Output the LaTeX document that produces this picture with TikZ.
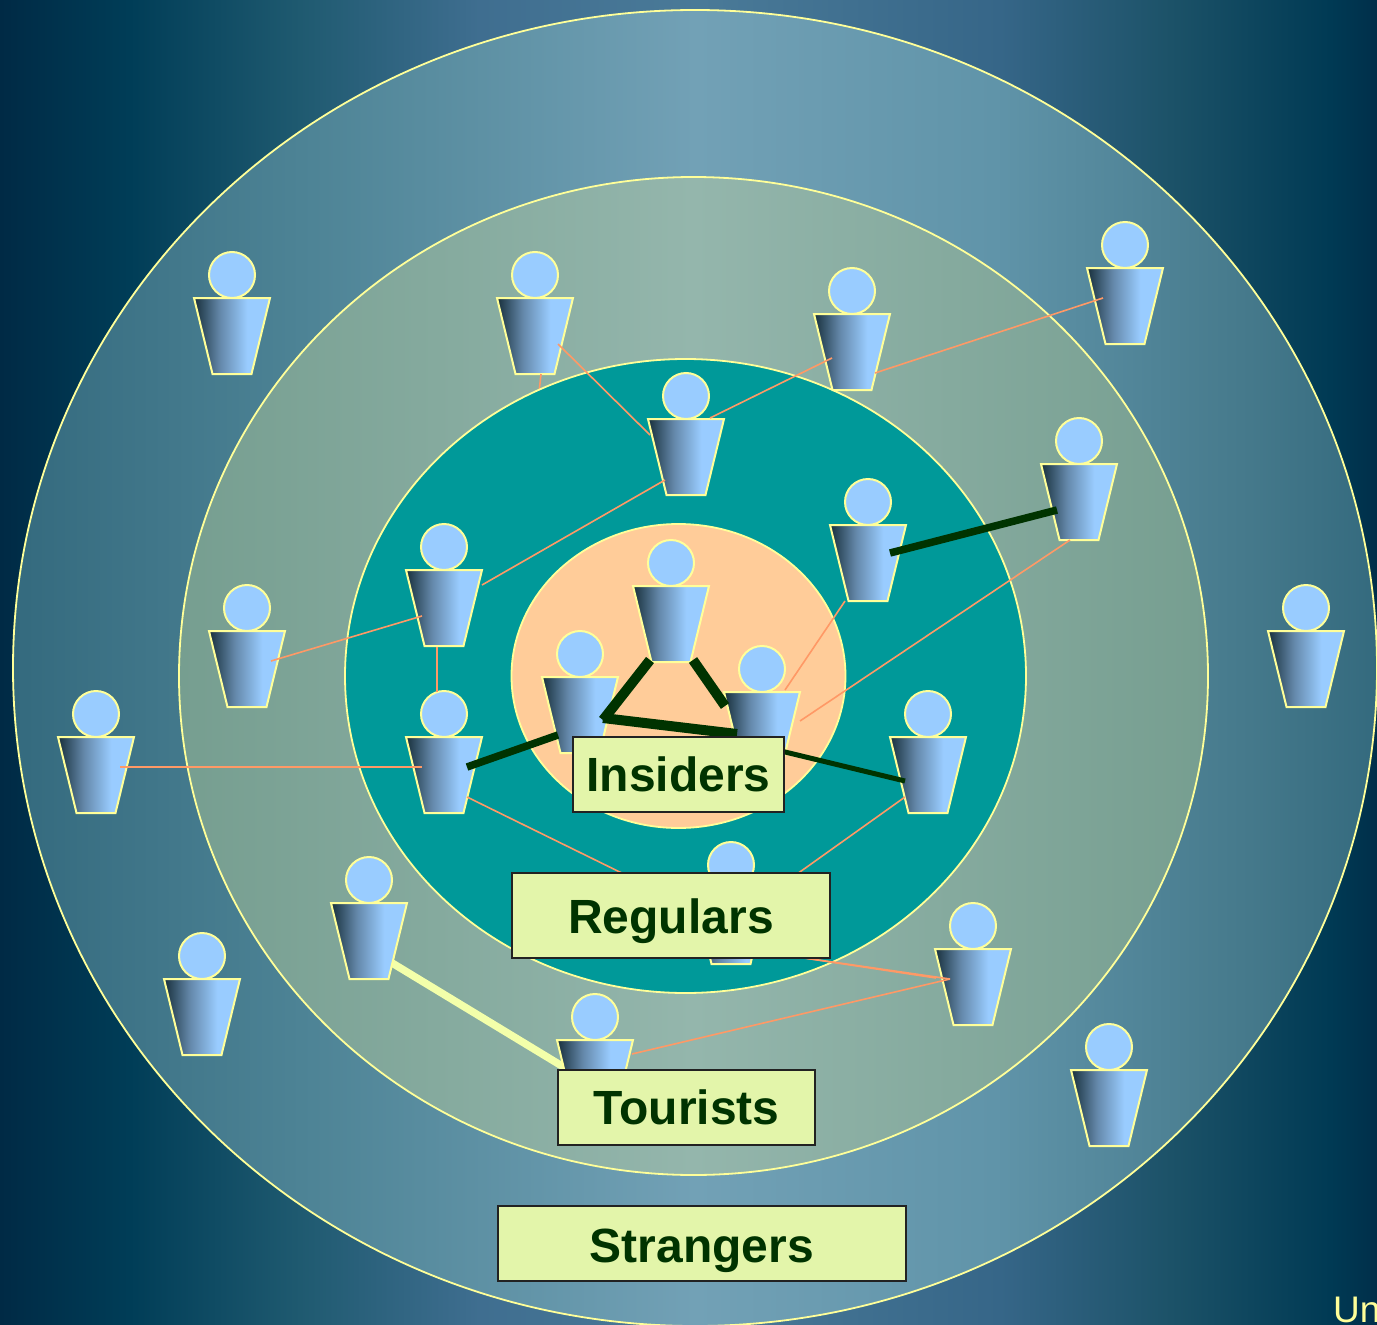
\documentclass[tikz,border=0pt]{standalone}
\usepackage{fontspec}
\setmainfont{Liberation Sans}
\usetikzlibrary{shapes.geometric}
\definecolor{ruleyellow}{HTML}{FFFF99}
\definecolor{linkorange}{HTML}{FF9966}
\definecolor{linkdark}{HTML}{003300}
\definecolor{linkpale}{HTML}{F3FFAA}
\definecolor{labelfill}{HTML}{E3F5AA}
\definecolor{labelrule}{HTML}{222222}
\definecolor{headblue}{HTML}{99CCFF}
\definecolor{tealring}{HTML}{009999}
\definecolor{peach}{HTML}{FFCC99}
\definecolor{bga}{HTML}{002A45}
\definecolor{bgb}{HTML}{003D57}
\definecolor{bgc}{HTML}{1F5A70}
\definecolor{bgd}{HTML}{3F6E90}
\definecolor{bge}{HTML}{4A7A98}
\definecolor{bgf}{HTML}{366688}
\definecolor{bgg}{HTML}{1C5268}
\definecolor{bgh}{HTML}{003A54}
\definecolor{bgi}{HTML}{002F4A}
\definecolor{oa}{HTML}{346A7E}
\definecolor{ob}{HTML}{4E8496}
\definecolor{oc}{HTML}{72A1B6}
\definecolor{od}{HTML}{6094A9}
\definecolor{oe}{HTML}{467A8C}
\definecolor{ma}{HTML}{769E90}
\definecolor{mb}{HTML}{94B6AC}
\definecolor{pa}{HTML}{18303C}
\definecolor{pb}{HTML}{6488AA}
\pgfdeclarehorizontalshading{bgshade}{100bp}{
 color(0bp)=(bga);
 color(25bp)=(bga);
 color(29.7bp)=(bgb);
 color(35.9bp)=(bgc);
 color(42.4bp)=(bgd);
 color(50.4bp)=(bge);
 color(61.3bp)=(bgf);
 color(67.5bp)=(bgg);
 color(73.3bp)=(bgh);
 color(75bp)=(bgi);
 color(100bp)=(bgi)}
\pgfdeclarehorizontalshading{outershade}{100bp}{
 color(0bp)=(oa);
 color(25bp)=(oa);
 color(36bp)=(ob);
 color(50bp)=(oc);
 color(61bp)=(od);
 color(70bp)=(oe);
 color(75bp)=(oa);
 color(100bp)=(oa)}
\pgfdeclarehorizontalshading{middleshade}{100bp}{
 color(0bp)=(ma);
 color(25bp)=(ma);
 color(50bp)=(mb);
 color(75bp)=(ma);
 color(100bp)=(ma)}
\pgfdeclarehorizontalshading{bodyshade}{100bp}{
 color(0bp)=(pa);
 color(25bp)=(pa);
 color(42bp)=(pb);
 color(60bp)=(headblue);
 color(100bp)=(headblue)}
\tikzset{
 headn/.style={circle,draw=ruleyellow,fill=headblue,line width=2pt,minimum size=46pt,inner sep=0pt,outer sep=0pt},
 bodyn/.style={trapezium,shape border rotate=180,trapezium stretches body,trapezium angle=76.3,minimum width=76pt,text height=76pt,text depth=0pt,text width=1pt,inner sep=0pt,outer sep=0pt,draw=ruleyellow,line width=2pt,shading=bodyshade},
 ring/.style={draw=ruleyellow,line width=1.8pt},
 thinlink/.style={draw=linkorange,line width=1.6pt},
 darklink/.style={draw=linkdark,line width=#1},
 palelink/.style={draw=linkpale,line width=7.5pt},
 labelbox/.style={draw=labelrule,line width=1.5pt,fill=labelfill,text=linkdark,text height=34pt,text depth=0pt,font=\fontsize{48}{48}\selectfont\bfseries,inner sep=0pt,outer sep=0pt}
}
\newcommand{\person}[3]{\node[headn] (#1h) at (#2,#3) {};\node[bodyn] (#1) at (#2,#3+61) {};}
\begin{document}
\begin{tikzpicture}[x=1pt,y=-1pt]
\useasboundingbox (0,0) rectangle (1377,1325);
\clip (0,0) rectangle (1377,1325);
\path[shading=bgshade] (0,0) rectangle (1377,1325);
\path[ring,shading=outershade] (695,668) ellipse [x radius=682pt,y radius=658pt];
\path[ring,shading=middleshade] (693.5,676) ellipse [x radius=514.5pt,y radius=499pt];
\coordinate (stub) at (539,392);
\coordinate (sAt) at (369,949);
\coordinate (vAt) at (595,1086);
\draw[palelink] (sAt) -- (vAt);
\person{b}{535}{275}
\draw[thinlink] ([shift={(6,38)}]b.center) -- (stub);
\path[ring,fill=tealring] (685.5,676) ellipse [x radius=340.5pt,y radius=317pt];
\path[ring,fill=peach] (678.5,676) ellipse [x radius=167pt,y radius=152pt];
\person{a}{232}{275}
\person{c}{852}{291}
\person{d}{1125}{245}
\person{e}{686}{396}
\person{f}{1079}{441}
\person{g}{868}{502}
\person{h}{671}{563}
\person{i}{444}{547}
\person{j}{247}{608}
\person{k}{1306}{608}
\person{l}{580}{654}
\person{m}{762}{669}
\person{n}{444}{714}
\person{o}{928}{714}
\person{q}{96}{714}
\person{r}{731}{865}
\person{s}{369}{880}
\person{t}{973}{926}
\person{u}{202}{956}
\person{v}{595}{1017}
\person{w}{1109}{1047}
\draw[thinlink] ([shift={(24,-8)}]q.center) -- ([shift={(-22,-8)}]n.center);
\draw[thinlink] ([shift={(24,-8)}]j.center) -- ([shift={(-22,8)}]i.center);
\draw[thinlink] ([shift={(-7,39)}]i.center) -- ([shift={(-7,-83)}]n.center);
\draw[thinlink] ([shift={(38,-23)}]i.center) -- ([shift={(-21,23)}]e.center);
\draw[thinlink] ([shift={(23,8)}]b.center) -- ([shift={(-36,-22)}]e.center);
\draw[thinlink] ([shift={(24,-39)}]e.center) -- ([shift={(-20,6)}]c.center);
\draw[thinlink] ([shift={(23,21)}]c.center) -- ([shift={(-22,-8)}]d.center);
\draw[thinlink] ([shift={(-23,38)}]g.center) -- ([shift={(23,-40)}]m.center);
\draw[thinlink] ([shift={(-9,38)}]f.center) -- ([shift={(38,-9)}]m.center);
\draw[thinlink] ([shift={(23,22)}]n.center) -- ([shift={(-40,-19)}]r.center);
\draw[thinlink] ([shift={(-23,22)}]o.center) -- ([shift={(38,-32)}]r.center);
\draw[thinlink] ([shift={(60,30)}]r.center) -- ([shift={(-37,-9)}]t.center);
\draw[thinlink] ([shift={(60,30)}]r.center) -- ([shift={(-23,-8)}]t.center);
\draw[thinlink] ([shift={(37,-24)}]v.center) -- ([shift={(-23,-8)}]t.center);
\draw[darklink=7.5pt] ([shift={(22,-10)}]g.center) -- ([shift={(-22,8)}]f.center);
\draw[darklink=7.5pt] ([shift={(23,-8)}]n.center) -- ([shift={(-22,20)}]l.center);
\draw[darklink=5pt] ([shift={(-23,6)}]o.center) -- ([shift={(-10,14)}]m.center);
\draw[darklink=10pt] ([shift={(-21,36)}]h.center) -- ([shift={(23,5)}]l.center);
\draw[darklink=10pt] ([shift={(22,36)}]h.center) -- ([shift={(-37,-24)}]m.center);
\draw[darklink=10pt] ([shift={(23,3)}]l.center) -- ([shift={(-25,4)}]m.center);
\node[labelbox,minimum width=211pt,minimum height=75pt] (insiders) at (678.5,774.5) {Insiders};
\node[labelbox,minimum width=318pt,minimum height=85pt,text height=36pt] (regulars) at (671,915.5) {Regulars};
\node[labelbox,minimum width=257pt,minimum height=75pt] (tourists) at (686.5,1107.5) {Tourists};
\node[labelbox,minimum width=408pt,minimum height=75pt,text height=37pt] (strangers) at (702,1243.5) {Strangers};
\node[anchor=base west,inner sep=0pt,text=ruleyellow,font=\fontsize{37}{37}\selectfont] (unfinished) at (1333,1322) {Un};
\end{tikzpicture}
\end{document}
